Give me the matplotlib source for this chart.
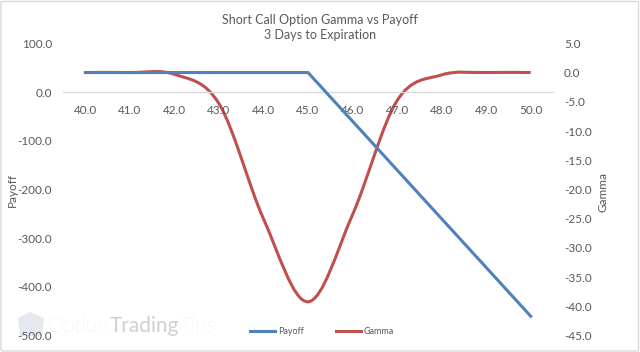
import matplotlib
matplotlib.use("Agg")
import matplotlib.pyplot as plt
from matplotlib.path import Path
from matplotlib.patches import PathPatch, FancyBboxPatch, Polygon
from matplotlib.lines import Line2D
from matplotlib.ticker import FormatStrFormatter, FixedLocator

plt.rcParams['font.family'] = ['Lato', 'DejaVu Sans']

# ---- data ----
strikes = [40.0, 41.0, 42.0, 43.0, 44.0, 45.0, 46.0, 47.0, 48.0, 49.0, 50.0]
payoff = [40, 40, 40, 40, 40, 40, -60, -160, -260, -360, -460]
gamma = [0.0, 0.0, -0.3, -5.3, -25.0, -39.2, -24.3, -4.8, -0.4, 0.0, 0.0]
payoff_ticks = [100, 0, -100, -200, -300, -400, -500]
gamma_ticks = [5, 0, -5, -10, -15, -20, -25, -30, -35, -40, -45]
title_lines = ["Short Call Option Gamma vs Payoff", "3 Days to Expiration"]

BLUE = "#4F81BD"
RED = "#C0504D"
TXT = "#595959"

W, H = 640, 352
fig = plt.figure(figsize=(W / 100, H / 100), dpi=100)

# border
fig.patches.append(FancyBboxPatch((1 / W, 1 / H), 1 - 2.5 / W, 1 - 2.5 / H,
                                  boxstyle="round,pad=0,rounding_size=0.004",
                                  transform=fig.transFigure, fill=False,
                                  edgecolor="#D9D9D9", linewidth=1.0))

left, right = 63 / W, 553 / W
top, bottom = 1 - 43.3 / H, 1 - 335.7 / H
ax = fig.add_axes([left, bottom, right - left, top - bottom])
ax2 = ax.twinx()

ax.set_xlim(strikes[0] - 0.5, strikes[-1] + 0.5)
ax.set_ylim(payoff_ticks[-1], payoff_ticks[0])
ax2.set_ylim(gamma_ticks[-1], gamma_ticks[0])

# payoff line
ax.plot(strikes, payoff, color=BLUE, lw=2.2, solid_joinstyle='miter', zorder=3)

# gamma smoothed (Excel-like bezier through data points)
n = len(strikes)
pts = list(zip(strikes, gamma))
verts = [pts[0]]
codes = [Path.MOVETO]
for i in range(n - 1):
    p_prev = pts[i - 1] if i > 0 else pts[i]
    p0 = pts[i]
    p1 = pts[i + 1]
    p_next = pts[i + 2] if i + 2 < n else pts[i + 1]
    c1 = (p0[0] + (p1[0] - p_prev[0]) / 6, p0[1] + (p1[1] - p_prev[1]) / 6)
    c2 = (p1[0] - (p_next[0] - p0[0]) / 6, p1[1] - (p_next[1] - p0[1]) / 6)
    verts += [c1, c2, p1]
    codes += [Path.CURVE4] * 3
ax2.add_patch(PathPatch(Path(verts, codes), fill=False, edgecolor=RED, lw=2.2, zorder=3))

# axes styling
for s in ['top', 'right', 'left']:
    ax.spines[s].set_visible(False)
for s in ['top', 'bottom', 'left', 'right']:
    ax2.spines[s].set_visible(False)
ax.spines['bottom'].set_position(('data', 0))
ax.spines['bottom'].set_color("#D9D9D9")
ax.spines['bottom'].set_linewidth(1.0)
ax.set_zorder(ax2.get_zorder() + 1)
ax.patch.set_visible(False)

ax.xaxis.set_major_locator(FixedLocator(strikes))
ax.xaxis.set_major_formatter(FormatStrFormatter('%.1f'))
ax.tick_params(axis='x', length=0, pad=9, labelsize=8.5, labelcolor=TXT)
ax.yaxis.set_major_locator(FixedLocator(payoff_ticks))
ax.yaxis.set_major_formatter(FormatStrFormatter('%.1f'))
ax.tick_params(axis='y', length=0, pad=8, labelsize=8.5, labelcolor=TXT)
ax2.yaxis.set_major_locator(FixedLocator(gamma_ticks))
ax2.yaxis.set_major_formatter(FormatStrFormatter('%.1f'))
ax2.tick_params(axis='y', length=0, pad=8, labelsize=8.5, labelcolor=TXT)

fig.text(12 / W, 1 - 190 / H, "Payoff", rotation=90, ha='center', va='center',
         fontsize=8.5, color=TXT)
fig.text(603 / W, 1 - 192 / H, "Gamma", rotation=90, ha='center', va='center',
         fontsize=8.5, color=TXT)

fig.text(0.5, 1 - 20 / H, title_lines[0], ha='center', va='center', fontsize=9, color=TXT)
fig.text(0.5, 1 - 35 / H, title_lines[1], ha='center', va='center', fontsize=9, color=TXT)

# watermark (logo + text pieces placed one after another)
fig.patches.append(Polygon([(18 / W, 1 - 318 / H), (30 / W, 1 - 312 / H), (44 / W, 1 - 318 / H),
                            (42 / W, 1 - 336 / H), (20 / W, 1 - 336 / H)],
                           closed=True, transform=fig.transFigure,
                           facecolor="#E6E8F0", edgecolor="none", zorder=0))
renderer = fig.canvas.get_renderer()
wm_y = 1 - 326 / H
xpos = 48 / W
for word, col, wt in [("Option", "#E0E0E0", 'light'), ("Trading", "#D0D0D0", 'normal'),
                      ("Tips", "#E0E0E0", 'light')]:
    t = fig.text(xpos, wm_y, word, ha='left', va='center', fontsize=15, color=col,
                 fontweight=wt, zorder=0)
    bb = t.get_window_extent(renderer=renderer)
    xpos += bb.width / W + 0.5 / W

# legend
handles = [Line2D([], [], color=BLUE, lw=2.2), Line2D([], [], color=RED, lw=2.2)]
fig.legend(handles, ["Payoff", "Gamma"], loc='center', bbox_to_anchor=(322 / W, 1 - 332 / H),
           ncol=2, frameon=False, fontsize=6.5, handlelength=2.8, handletextpad=0.3,
           columnspacing=3.5, labelcolor=TXT)

fig.savefig("out.png", dpi=100)
